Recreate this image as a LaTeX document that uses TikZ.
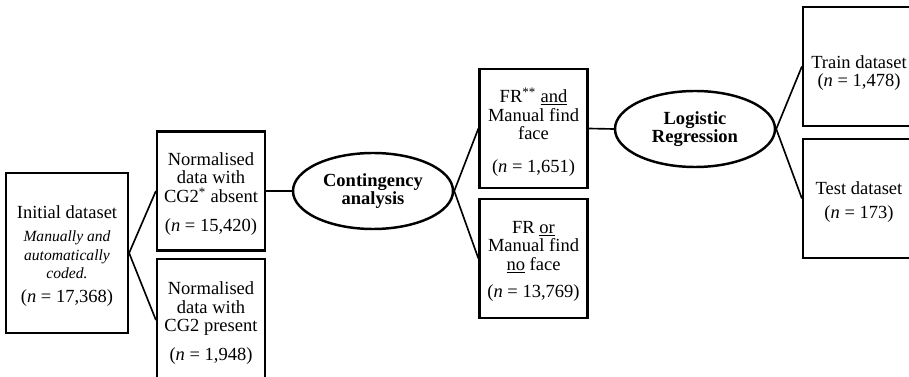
\documentclass[tikz,border=0pt]{standalone}
\usepackage{fontspec}
\setmainfont{Liberation Serif}
\usetikzlibrary{shapes.geometric, positioning}
\newcommand{\notefont}{\fontsize{13.3}{13.3}\selectfont\itshape}

\begin{document}
\begin{tikzpicture}[
        x=0.03cm, y=-0.03cm,
        dataset/.style = {draw, line width=1.9pt, rectangle, minimum width=3.24cm, minimum height=3.57cm, inner sep=2pt, align=center, font=\fontsize{15.8}{15.8}\selectfont},
        method/.style = {draw, line width=2.1pt, ellipse, minimum width=4.8cm, minimum height=2.28cm, inner sep=0pt, align=center, font=\fontsize{15.8}{15.8}\selectfont\bfseries},
        connector/.style = {line width=1.4pt}
    ]
        \useasboundingbox (0,0) rectangle (909,377);

        % Nodes
        \node [dataset, minimum width=3.66cm, minimum height=4.8cm] (initial) at (67,253) {\rule{0pt}{16pt}Initial dataset\\[4pt]{\notefont Manually and}\\{\notefont automatically}\\{\notefont coded.}\\[4pt](\textit{n} = 17,368)};
        \node [dataset] (absent) at (211,191) {\rule{0pt}{16pt}Normalised\\data with\\CG2\textsuperscript{*} absent\\[9pt](\textit{n} = 15,420)};
        \node [dataset, minimum height=3.66cm] (present) at (211,320) {\rule{0pt}{16pt}Normalised\\data with\\CG2 present\\[8.5pt](\textit{n} = 1,948)};
        \node [method] (contingency) at (373,191) {Contingency\\analysis};
        \node [dataset] (both) at (533.5,128.5) {\rule{0pt}{19pt}FR\textsuperscript{**} \underline{and}\\Manual find\\face\\[12pt](\textit{n} = 1,651)};
        \node [dataset] (either) at (533.5,258.5) {\rule{0pt}{15pt}FR \underline{or}\\Manual find\\\underline{no} face\\[7pt](\textit{n} = 13,769)};
        \node [method] (logistic) at (695,129) {Logistic\\Regression};
        \node [dataset, minimum width=3.36cm] (train) at (859,66.5) {\rule{0pt}{22pt}Train dataset\\(\textit{n} = 1,478)};
        \node [dataset, minimum width=3.36cm] (test) at (859,198.5) {\rule{0pt}{17pt}Test dataset\\[4pt](\textit{n} = 173)};

        % Connections
        \draw [connector] (initial.east) -- (absent.west);
        \draw [connector] (initial.east) -- (present.west);
        \draw [connector] (absent.east) -- (contingency.west);
        \draw [connector] (contingency.east) -- (both.west);
        \draw [connector] (contingency.east) -- (either.west);
        \draw [connector] (both.east) -- (logistic.west);
        \draw [connector] (logistic.east) -- (train.west);
        \draw [connector] (logistic.east) -- (test.west);
    \end{tikzpicture}
\end{document}
